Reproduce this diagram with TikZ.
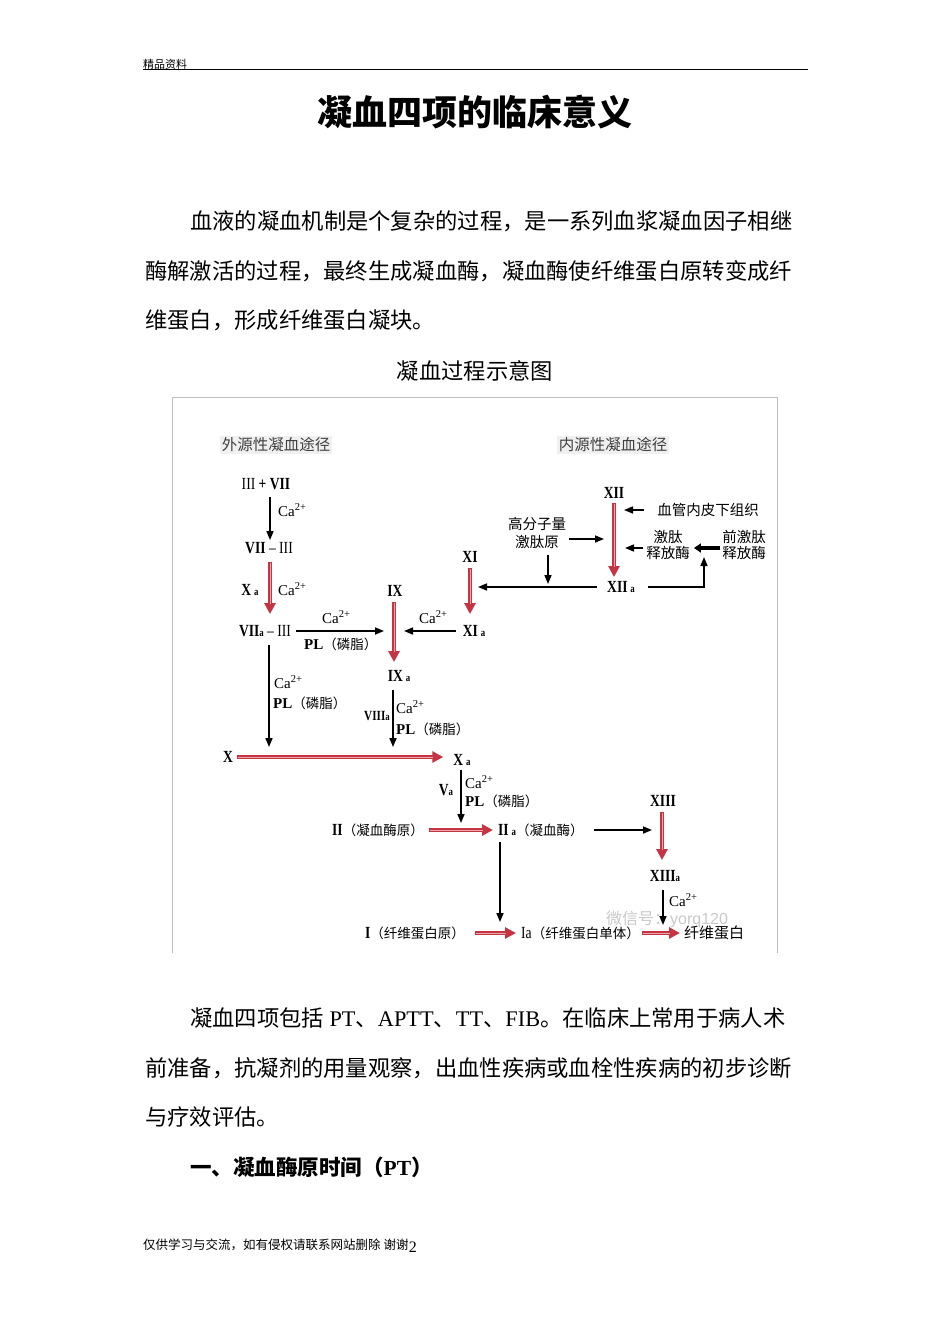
\documentclass[tikz,border=0pt]{standalone}
\usepackage{fontspec}
\setmainfont{Liberation Serif}
\newfontfamily\cjk{Noto Sans CJK SC}
\newfontfamily\lat{Liberation Serif}
\newfontfamily\latsans{Liberation Sans}
\newfontfamily\numf{Liberation Serif}[FakeStretch=0.8]
\usetikzlibrary{arrows.meta}
\definecolor{arrred}{RGB}{196,52,66}
\definecolor{arrpink}{RGB}{238,165,172}
\newcommand{\sa}{{\fontsize{11}{11}\selectfont a}}
\newcommand{\caz}{{\lat Ca\textsuperscript{2+}}}
\newcommand{\plz}{{\lat\bfseries PL}{\cjk\fontsize{13.5}{15}\selectfont（磷脂）}}
\newcommand{\cjkm}{\cjk\mdseries\fontsize{13.5}{15}\selectfont}
\newcommand{\rarr}[4]{%
  \draw[redarr, shorten <=#3, shorten >=#4] #1 -- #2;
  \draw[redmid, shorten <=#3+1pt, shorten >=#4+10pt] #1 -- #2;}
\tikzset{
  num/.style={font=\numf\bfseries\fontsize{17}{19}\selectfont, inner sep=1pt, text height=11.5pt, text depth=0pt},
  lbl/.style={font=\cjk\fontsize{14.5}{18}\selectfont, inner sep=1pt, align=center},
  cal/.style={font=\lat\fontsize{15}{16}\selectfont, inner sep=1pt, anchor=west},
  hdr/.style={font=\cjk\fontsize{15.5}{17}\selectfont, text=black!75, fill=black!6, inner sep=2pt},
  para/.style={font=\cjk\fontsize{22.3}{26}\selectfont, anchor=west, inner sep=0pt},
  blk/.style={draw=black, line width=1.6pt, -{Triangle[length=9pt,width=7pt]}},
  blkthick/.style={draw=black, line width=3.2pt, -{Triangle[length=7pt,width=9pt]}},
  redarr/.style={draw=arrred, line width=4.2pt, -{Triangle[length=11pt,width=11pt]}},
  redmid/.style={draw=arrpink, line width=1pt},
}
\begin{document}
\begin{tikzpicture}[x=1pt,y=-1pt]
\useasboundingbox[fill=white] (0,0) rectangle (950,1344);

% ---------- page header ----------
\node[font=\cjk\fontsize{11}{12}\selectfont, anchor=west, inner sep=0pt] (hd) at (143,64) {精品资料};
\draw[line width=0.8pt] (143,69) -- (808,69);
\node[font=\cjk\bfseries\fontsize{35}{40}\selectfont, inner sep=0pt] (title) at (475,112) {凝血四项的临床意义};

% ---------- paragraph 1 ----------
\node[para] (p1a) at (190,221) {血液的凝血机制是个复杂的过程，是一系列血浆凝血因子相继};
\node[para] (p1b) at (145,271) {酶解激活的过程，最终生成凝血酶，凝血酶使纤维蛋白原转变成纤};
\node[para] (p1c) at (145,320) {维蛋白，形成纤维蛋白凝块。};
\node[para, anchor=center] (cap) at (475,371) {凝血过程示意图};

% ---------- diagram frame ----------
\draw[black!25, line width=1pt] (172,953) -- (172,397) -- (777,397) -- (777,953);

\node[hdr] (text) at (276,445) {外源性凝血途径};
\node[hdr] (tint) at (613,445) {内源性凝血途径};

% extrinsic pathway
\node[num] (n1) at (266,484) {{\mdseries III} + VII};
\node[num] (n2) at (269,548) {VII {\mdseries – III}};
\node[num] (n3) at (265,631) {VII\sa{} {\mdseries – III}};
\node[cal] (ca1) at (277,510) {\caz};
\node[num] (xa1) at (250,590) {X\,\sa};
\node[cal] (ca2) at (277,589) {\caz};
\node[cal] (ca3) at (321,617) {\caz};
\node[cal] (pl1) at (303,644) {\plz};
\node[num] (nIX) at (395,591) {IX};
\node[num] (nXI) at (470,557) {XI};
\node[num] (nXIa) at (474,631) {XI\,\sa};
\node[cal] (ca4) at (418,617) {\caz};
\node[num] (nIXa) at (399,676) {IX\,\sa};
\node[cal] (ca5) at (273,682) {\caz};
\node[cal] (pl2) at (272,703) {\plz};
\node[num, font=\numf\bfseries\fontsize{14}{15}\selectfont] (v8a) at (377,715) {VIII\sa};
\node[cal] (ca6) at (395,707) {\caz};
\node[cal] (pl3) at (395,729) {\plz};
\node[num] (nX) at (228,757) {X};
\node[num] (nXa) at (462,760) {X\,\sa};
\node[num] (va) at (446,790) {V\sa};
\node[cal] (ca7) at (464,782) {\caz};
\node[cal] (pl4) at (464,801) {\plz};
\node[num, anchor=west] (nII) at (331,830) {II{\cjkm（凝血酶原）}};
\node[num, anchor=west] (nIIa) at (497,830) {II\,\sa{\cjkm（凝血酶）}};
\node[num] (nXIII) at (663,801) {XIII};
\node[num] (nXIIIa) at (665,876) {XIII\sa};
\node[cal] (ca8) at (668,900) {\caz};
\node[num, anchor=west] (nI) at (364,933) {I{\cjkm（纤维蛋白原）}};
\node[num, anchor=west] (nIa) at (520,933) {{\mdseries Ia}{\cjkm（纤维蛋白单体）}};
\node[num, anchor=west] (nF) at (683,933) {\cjk\mdseries\fontsize{15}{16}\selectfont 纤维蛋白};

% intrinsic pathway
\node[num] (nXII) at (614,493) {XII};
\node[lbl] (nSub) at (708,510) {血管内皮下组织};
\node[lbl] (nHMW) at (537,533) {高分子量\\激肽原};
\node[lbl, font=\cjk\fontsize{14.5}{15.5}\selectfont] (nKal) at (668,545) {激肽\\释放酶};
\node[lbl, font=\cjk\fontsize{14.5}{15.5}\selectfont] (nPre) at (744,545) {前激肽\\释放酶};
\node[num] (nXIIa) at (621,587) {XII\,\sa};

% ---------- connectors ----------
\coordinate (xA) at (270,0);
\draw[blk, shorten <=6pt, shorten >=1pt] (n1.south -| xA) -- (n2.north -| xA);
\rarr{(n2.south -| xA)}{(n3.north -| xA)}{7pt}{10pt}
\coordinate (cIX) at (394,631);
\draw[blk, shorten <=4pt, shorten >=10pt] (n3.east) -- (cIX);
\coordinate (xB) at (269,0);
\coordinate (cX1) at (269,757);
\draw[blk, shorten <=7pt, shorten >=10pt] (n3.south -| xB) -- (cX1);
\coordinate (xIX) at (394,0);
\rarr{(nIX.south -| xIX)}{(nIXa.north -| xIX)}{4pt}{7pt}
\draw[blk, shorten <=6pt, shorten >=10pt] (nXIa.west) -- (cIX);
\coordinate (xXI) at (470,0);
\rarr{(nXI.south -| xXI)}{(nXIa.north -| xXI)}{4pt}{10pt}
\coordinate (xC) at (393,0);
\coordinate (cX2) at (393,757);
\draw[blk, shorten <=7pt, shorten >=10pt] (nIXa.south -| xC) -- (cX2);
\rarr{(nX.east)}{(nXa.west |- nX.east)}{3pt}{9pt}
\coordinate (xD) at (461,0);
\coordinate (cII) at (461,830);
\draw[blk, shorten <=3pt, shorten >=7pt] (nXa.south -| xD) -- (cII);
\rarr{(nII.east)}{(nIIa.west)}{4pt}{4pt}
\coordinate (cXIII) at (662,830);
\draw[blk, shorten <=9pt, shorten >=10pt] (nIIa.east) -- (cXIII);
\coordinate (xE) at (662,0);
\rarr{(nXIII.south -| xE)}{(nXIIIa.north -| xE)}{4pt}{9pt}
\coordinate (xF) at (663,0);
\coordinate (cF) at (663,933);
\draw[blk, shorten <=7pt, shorten >=8pt] (nXIIIa.south -| xF) -- (cF);
\coordinate (xG) at (500,0);
\coordinate (cIa) at (500,933);
\draw[blk, shorten <=5pt, shorten >=11pt] (nIIa.south -| xG) -- (cIa);
\rarr{(nI.east)}{(nIa.west)}{9pt}{4pt}
\rarr{(nIa.east)}{(nF.west)}{1pt}{3pt}

\coordinate (xH) at (614,0);
\rarr{(nXII.south -| xH)}{(nXIIa.north -| xH)}{3pt}{3pt}
\coordinate (cS) at (614,510);
\draw[blk, shorten <=12pt, shorten >=10pt] (nSub.west) -- (cS);
\coordinate (cH) at (614,539);
\draw[blk, shorten <=2pt, shorten >=10pt] (nHMW.east |- cH) -- (cH);
\coordinate (cK) at (614,548);
\draw[blk, shorten <=2pt, shorten >=11pt] (nKal.west |- cK) -- (cK);
\draw[blkthick, shorten <=1pt, shorten >=3pt] (nPre.west |- cK) -- (nKal.east |- cK);
\coordinate (cXI) at (470,587);
\draw[blk, shorten <=9pt, shorten >=8pt] (nXIIa.west) -- (cXI);
\coordinate (cBr) at (548,587);
\draw[blk, shorten <=5pt, shorten >=3pt] (nHMW.south -| cBr) -- (cBr);
\coordinate (cKP) at (704,549);
\draw[blk, shorten <=12pt, shorten >=8pt] (nXIIa.east) -- (cKP |- nXIIa.east) -- (cKP);

% watermark
\node[anchor=west, text=black!30, opacity=0.7, font=\cjk\fontsize{16}{17}\selectfont, inner sep=0pt] (wm) at (606,919) {微信号：{\latsans yorq120}};

% ---------- paragraph 2 ----------
\node[para] (p2a) at (190,1018) {凝血四项包括{\lat\ PT}、{\lat APTT}、{\lat TT}、{\lat FIB}。在临床上常用于病人术};
\node[para] (p2b) at (145,1068) {前准备，抗凝剂的用量观察，出血性疾病或血栓性疾病的初步诊断};
\node[para] (p2c) at (145,1117) {与疗效评估。};
\node[para, font=\cjk\bfseries\fontsize{21.5}{26}\selectfont] (h1) at (190,1167) {一、凝血酶原时间（{\lat\bfseries PT}）};

% ---------- footer ----------
\node[anchor=base west, font=\cjk\fontsize{12.5}{14}\selectfont, inner sep=0pt] (ft) at (143,1249) {仅供学习与交流，如有侵权请联系网站删除 谢谢};
\node[anchor=base west, font=\lat\fontsize{16}{17}\selectfont, inner sep=0pt] (pg) at ([yshift=-3pt]ft.base east) {2};
\end{tikzpicture}
\end{document}
